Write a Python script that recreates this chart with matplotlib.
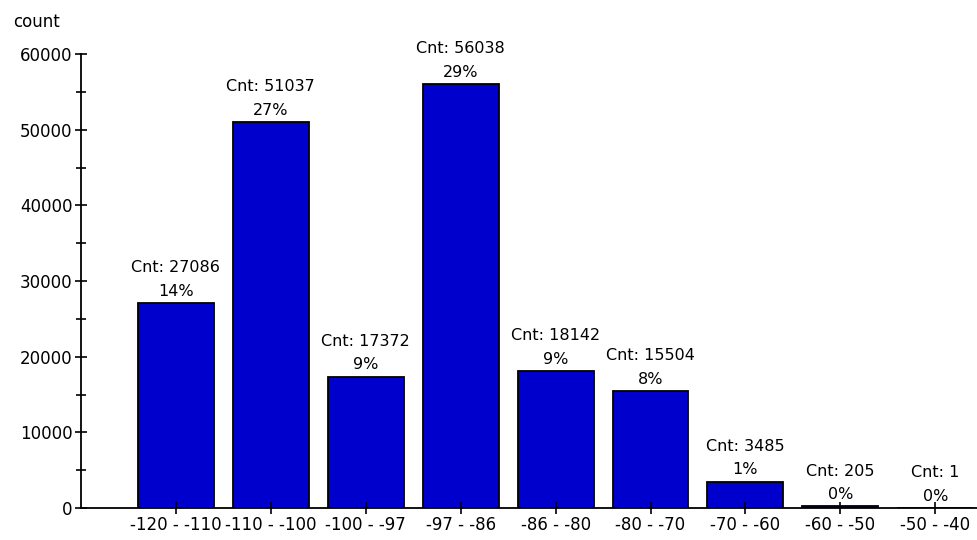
import matplotlib
matplotlib.use('Agg')
import matplotlib.pyplot as plt
from matplotlib.ticker import MultipleLocator

# Dane histogramu
bins = ['-120 - -110', '-110 - -100', '-100 - -97', '-97 - -86', '-86 - -80',
        '-80 - -70', '-70 - -60', '-60 - -50', '-50 - -40']
counts = [27086, 51037, 17372, 56038, 18142, 15504, 3485, 205, 1]
percents = ['14%', '27%', '9%', '29%', '9%', '8%', '1%', '0%', '0%']

plt.rcParams['font.family'] = ['DejaVu Sans']
plt.rcParams['font.size'] = 11.5

fig = plt.figure(figsize=(9.78, 5.4), dpi=100)
ax = fig.add_axes([81 / 978, 1 - 508 / 540, 1 - 81 / 978, (508 - 54) / 540])

x = list(range(len(bins)))
ax.bar(x, counts, width=0.8, color='#0000CC', edgecolor='black', linewidth=1.3)

# Etykiety nad słupkami
for xi, c, p in zip(x, counts, percents):
    ax.annotate(p, (xi, c), xytext=(0, 3), textcoords='offset points',
                ha='center', va='bottom', fontsize=11.5)
    ax.annotate(f'Cnt: {c}', (xi, c), xytext=(0, 20), textcoords='offset points',
                ha='center', va='bottom', fontsize=11.5)

ax.set_xlim(-1, 8.45)
ax.set_ylim(0, 60000)
ax.set_xticks(x)
ax.set_xticklabels(bins)
ax.yaxis.set_major_locator(MultipleLocator(10000))
ax.yaxis.set_minor_locator(MultipleLocator(5000))
ax.tick_params(axis='both', direction='inout', length=8, width=1.2, pad=2,
               labelsize=12)
ax.tick_params(axis='y', which='minor', direction='inout', length=7, width=1.2)

ax.spines['top'].set_visible(False)
ax.spines['right'].set_visible(False)
ax.spines['left'].set_linewidth(1.3)
ax.spines['bottom'].set_linewidth(1.3)

fig.text(13 / 978, 1 - 22 / 540, 'count', ha='left', va='center', fontsize=12)

fig.savefig('out.png', dpi=100)
plt.close(fig)
